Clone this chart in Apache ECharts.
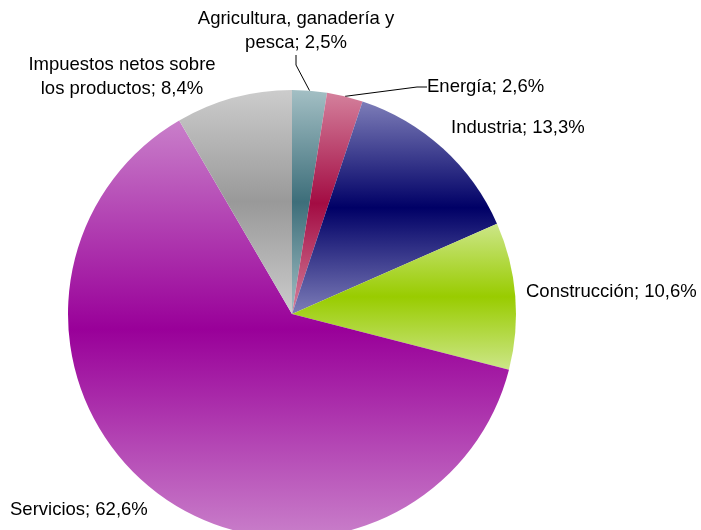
<!DOCTYPE html>
<html>
<head>
<meta charset="utf-8">
<script src="https://cdn.jsdelivr.net/npm/echarts@6/dist/echarts.min.js"></script>
<style>
html,body{margin:0;padding:0;background:#fff;}
#chart{width:701px;height:530px;}
</style>
</head>
<body>
<div id="chart"></div>
<script>
var categories = ['Agricultura, ganadería y pesca', 'Energía', 'Industria', 'Construcción', 'Servicios', 'Impuestos netos sobre los productos'];
var values = [2.5, 2.6, 13.3, 10.6, 62.6, 8.4];
var lightColors = ['#a3bfc4', '#d4809c', '#7d7db8', '#cce688', '#c97fca', '#cccccc'];
var darkColors = ['#3d6e7a', '#a30c43', '#000066', '#99cc00', '#990099', '#999999'];
var showLine = [true, true, false, false, false, false];

// label placement (pixel anchors) per slice
var labelPos = [
  {x: 296, y: 31, align: 'center'},
  {x: 427, y: 87, align: 'left'},
  {x: 451, y: 128, align: 'left'},
  {x: 526, y: 292, align: 'left'},
  {x: 10, y: 510, align: 'left'},
  {x: 122, y: 77, align: 'center'}
];

var chart = echarts.init(document.getElementById('chart'), null, {renderer: 'canvas'});

var data = categories.map(function (c, i) {
  return {
    name: c,
    value: values[i],
    itemStyle: {
      color: new echarts.graphic.LinearGradient(0, 0, 0, 1, [
        {offset: 0, color: lightColors[i]},
        {offset: 0.5, color: darkColors[i]},
        {offset: 1, color: lightColors[i]}
      ])
    },
    labelLine: {show: showLine[i]}
  };
});

chart.setOption({
  animation: false,
  series: [{
    type: 'pie',
    center: [292, 314],
    radius: 224,
    startAngle: 90,
    clockwise: true,
    data: data,
    label: {
      show: true,
      position: 'outside',
      overflow: 'none',
      color: '#000',
      fontFamily: 'Liberation Sans, Arial, sans-serif',
      fontSize: 18.5,
      lineHeight: 24,
      formatter: function (p) {
        var n = p.name.replace('ganadería y ', 'ganadería y\n').replace('netos sobre ', 'netos sobre\n');
        return n + '; ' + p.value.toFixed(1).replace('.', ',') + '%';
      }
    },
    labelLine: {
      lineStyle: {color: '#000', width: 1},
      length: 10,
      length2: 10
    },
    labelLayout: function (params) {
      var p = labelPos[params.dataIndex];
      return {x: p.x, y: p.y, align: p.align, verticalAlign: 'middle'};
    },
    emphasis: {disabled: true}
  }]
});
</script>
</body>
</html>
